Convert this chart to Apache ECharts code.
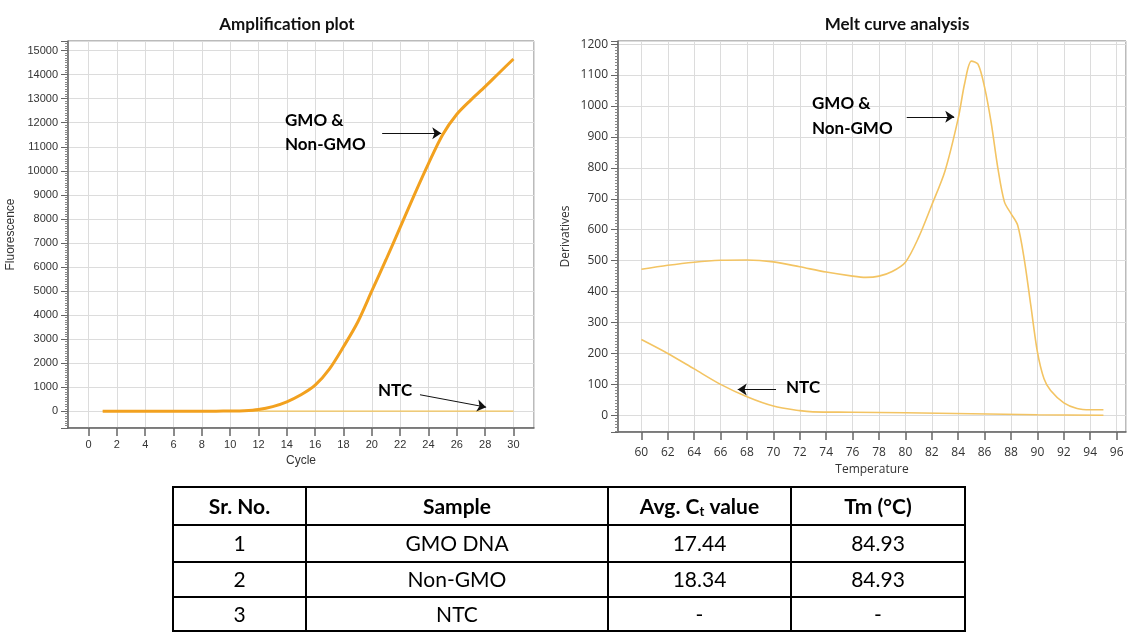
<!DOCTYPE html>
<html>
<head>
<meta charset="utf-8">
<script src="https://cdn.jsdelivr.net/npm/echarts@6/dist/echarts.min.js"></script>
<style>
html,body{margin:0;padding:0;background:#fff;}
#chart{width:1131px;height:632px;}
</style>
</head>
<body>
<div id="chart"></div>
<script>
// ---- Amplification plot data ----
const cycles = [1,2,3,4,5,6,7,8,9,10,11,12,13,14,15,16,17,18,19,20,21,22,23,24,25,26,27,28,29,30];
const gmoFluorescence = [0,0,0,0,0,0,0,0,2,6,20,70,190,390,680,1080,1750,2680,3700,5000,6300,7650,9000,10300,11500,12350,12950,13500,14080,14650];
const ntcFluorescence = [0,0,0,0,0,0,0,0,0,0,0,0,0,0,0,0,0,0,0,0,0,0,0,0,0,0,0,0,0,0];

// ---- Melt curve data ----
const gmoTemp  = [60,62,64,66,68,70,72,74,76,77,78,79,80,81,82,83,84,84.5,85,85.5,86,86.5,87,87.5,88,88.5,89,89.5,90,90.5,91,92,93,94,95];
const gmoDeriv = [472,485,495,501,502,496,480,463,450,446,450,465,495,575,680,790,960,1075,1145,1135,1060,945,800,690,652,615,505,355,205,118,80,40,22,18,18];
const ntcTemp  = [60,62,64,66,68,70,72,73,76,80,85,90,95];
const ntcDeriv = [245,200,150,100,60,30,15,11,10,8,5,2,0];

// ---- Table data ----
const tableHeader = ['Sr. No.', 'Sample', 'Avg. Ct value', 'Tm (°C)'];
const tableSrNo   = ['1', '2', '3'];
const tableSample = ['GMO DNA', 'Non-GMO', 'NTC'];
const tableCt     = ['17.44', '18.34', '-'];
const tableTm     = ['84.93', '84.93', '-'];

const zip = (xs, ys) => xs.map((x, i) => [x, ys[i]]);

const chart = echarts.init(document.getElementById('chart'), null, {renderer: 'canvas'});

const gridLine = {show: true, lineStyle: {color: '#dcdcdc', width: 1}};
const axLine = {show: true, onZero: false, lineStyle: {color: '#666', width: 1.5}};
const arrowLine = {color: '#111', width: 1, type: 'solid'};
const plain = v => String(v);

function annText(x, y, text) {
  return {type: 'text', left: x, top: y, silent: true, z: 100,
    style: {text: text, fontFamily: 'Lato', fontSize: 17, fontWeight: 'bold', fill: '#000'}};
}

// table graphic
const colX = [173, 306, 608, 791, 965];
const rowY = [487, 525, 562, 597, 631];
const tableEls = [];
tableEls.push({type: 'rect', shape: {x: colX[0], y: rowY[0], width: colX[4]-colX[0], height: rowY[4]-rowY[0]},
  style: {fill: 'none', stroke: '#000', lineWidth: 2}, silent: true});
for (let i = 1; i < colX.length - 1; i++) {
  tableEls.push({type: 'line', shape: {x1: colX[i], y1: rowY[0], x2: colX[i], y2: rowY[4]}, style: {stroke: '#000', lineWidth: 2}, silent: true});
}
for (let j = 1; j < rowY.length - 1; j++) {
  tableEls.push({type: 'line', shape: {x1: colX[0], y1: rowY[j], x2: colX[4], y2: rowY[j]}, style: {stroke: '#000', lineWidth: 2}, silent: true});
}
function cellText(ci, ri, text, bold, rich) {
  const cx = (colX[ci] + colX[ci+1]) / 2, cy = (rowY[ri] + rowY[ri+1]) / 2;
  const el = {type: 'text', x: cx, y: cy + 1, silent: true,
    style: {text: text, align: 'center', verticalAlign: 'middle',
      fontFamily: 'Lato', fontSize: 21, fontWeight: bold ? 'bold' : 'normal', fill: '#000'}};
  if (rich) el.style.rich = rich;
  return el;
}
const richCt = {
  a: {fontFamily: 'Lato', fontSize: 21, fontWeight: 'bold', fill: '#000'},
  s: {fontFamily: 'Lato', fontSize: 13, fontWeight: 'bold', fill: '#000', padding: [10, 0, 0, 0]}
};
tableEls.push(cellText(0, 0, tableHeader[0], true));
tableEls.push(cellText(1, 0, tableHeader[1], true));
tableEls.push(cellText(2, 0, '{a|Avg. C}{s|t}{a| value}', true, richCt));
tableEls.push(cellText(3, 0, tableHeader[3], true));
for (let r = 0; r < tableSrNo.length; r++) {
  tableEls.push(cellText(0, r+1, tableSrNo[r], false));
  tableEls.push(cellText(1, r+1, tableSample[r], false));
  tableEls.push(cellText(2, r+1, tableCt[r], false));
  tableEls.push(cellText(3, r+1, tableTm[r], false));
}

const option = {
  backgroundColor: '#fff',
  animation: false,
  title: [
    {text: 'Amplification plot', left: 282, top: 11, textAlign: 'center',
      textStyle: {fontFamily: 'Lato', fontWeight: 'bold', fontSize: 17, color: '#111'}},
    {text: 'Melt curve analysis', left: 892, top: 11, textAlign: 'center',
      textStyle: {fontFamily: 'Lato', fontWeight: 'bold', fontSize: 17, color: '#111'}}
  ],
  grid: [
    {left: 68, top: 41, width: 466, height: 387, show: true, borderColor: '#777', borderWidth: 1, backgroundColor: '#fff'},
    {left: 618, top: 41, width: 508, height: 391, show: true, borderColor: '#777', borderWidth: 1, backgroundColor: '#fff'}
  ],
  xAxis: [
    {type: 'value', gridIndex: 0, min: -1.45, max: 31.45, splitNumber: 16,
      name: 'Cycle', nameLocation: 'middle', nameGap: 27,
      nameTextStyle: {fontFamily: 'Liberation Sans', fontSize: 12, color: '#333'},
      axisLine: axLine, axisTick: {show: true, length: 8, lineStyle: {color: '#666', width: 1.5}},
      axisLabel: {fontFamily: 'Liberation Sans', fontSize: 11, color: '#333', margin: 11, showMinLabel: false, showMaxLabel: false, formatter: plain},
      splitLine: gridLine},
    {type: 'value', gridIndex: 1, min: 58.23, max: 96.71, splitNumber: 19,
      name: 'Temperature', nameLocation: 'middle', nameGap: 32,
      nameTextStyle: {fontFamily: 'Open Sans', fontSize: 12, color: '#333'},
      axisLine: axLine, axisTick: {show: true, length: 8, lineStyle: {color: '#666', width: 1.5}},
      axisLabel: {fontFamily: 'Open Sans', fontSize: 12, color: '#333', margin: 15, showMinLabel: false, showMaxLabel: false, formatter: plain},
      splitLine: gridLine}
  ],
  yAxis: [
    {type: 'value', gridIndex: 0, min: -700, max: 15400, splitNumber: 16,
      name: 'Fluorescence', nameLocation: 'middle', nameGap: 51,
      nameTextStyle: {fontFamily: 'Liberation Sans', fontSize: 12, color: '#333'},
      axisLine: axLine, axisTick: {show: true, length: 7, lineStyle: {color: '#666', width: 1}},
      minorTick: {show: true, splitNumber: 10, length: 3, lineStyle: {color: '#888'}},
      axisLabel: {fontFamily: 'Liberation Sans', fontSize: 11, color: '#333', margin: 10, showMinLabel: false, showMaxLabel: false, formatter: plain},
      splitLine: gridLine},
    {type: 'value', gridIndex: 1, min: -54, max: 1210, splitNumber: 12,
      name: 'Derivatives', nameLocation: 'middle', nameGap: 46,
      nameTextStyle: {fontFamily: 'Open Sans', fontSize: 12, color: '#333'},
      axisLine: axLine, axisTick: {show: true, length: 7, lineStyle: {color: '#666', width: 1}},
      minorTick: {show: true, splitNumber: 10, length: 3, lineStyle: {color: '#888'}},
      axisLabel: {fontFamily: 'Open Sans', fontSize: 12, color: '#333', margin: 10, showMinLabel: false, showMaxLabel: false, formatter: plain},
      splitLine: gridLine}
  ],
  series: [
    {type: 'line', name: 'NTC', xAxisIndex: 0, yAxisIndex: 0, data: zip(cycles, ntcFluorescence),
      showSymbol: false, lineStyle: {color: '#f2c45a', width: 1.2}, z: 2,
      markLine: {silent: true, symbol: ['none', 'arrow'], symbolSize: 9, label: {show: false},
        lineStyle: arrowLine, data: [[{coord: [23.4, 683]}, {coord: [28.07, 167]}]]}},
    {type: 'line', name: 'GMO & Non-GMO', xAxisIndex: 0, yAxisIndex: 0, data: zip(cycles, gmoFluorescence),
      showSymbol: false, smooth: 0.3, lineStyle: {color: '#f2a11f', width: 3}, z: 3,
      markLine: {silent: true, symbol: ['none', 'arrow'], symbolSize: 9, label: {show: false},
        lineStyle: arrowLine, data: [[{coord: [20.73, 11558]}, {coord: [24.9, 11558]}]]}},
    {type: 'line', name: 'GMO & Non-GMO melt', xAxisIndex: 1, yAxisIndex: 1, data: zip(gmoTemp, gmoDeriv),
      showSymbol: false, smooth: 0.3, lineStyle: {color: '#f3c463', width: 1.6},
      markLine: {silent: true, symbol: ['none', 'arrow'], symbolSize: 9, label: {show: false},
        lineStyle: arrowLine, data: [[{coord: [80.1, 965]}, {coord: [83.7, 965]}]]}},
    {type: 'line', name: 'NTC melt', xAxisIndex: 1, yAxisIndex: 1, data: zip(ntcTemp, ntcDeriv),
      showSymbol: false, smooth: 0.3, lineStyle: {color: '#f3c463', width: 1.6},
      markLine: {silent: true, symbol: ['none', 'arrow'], symbolSize: 9, label: {show: false},
        lineStyle: arrowLine, data: [[{coord: [70.2, 83]}, {coord: [67.3, 83]}]]}}
  ],
  graphic: [
    annText(285, 112, 'GMO &'),
    annText(285, 136, 'Non-GMO'),
    annText(378, 382, 'NTC'),
    annText(812, 95, 'GMO &'),
    annText(812, 120, 'Non-GMO'),
    annText(786, 379, 'NTC'),
    {type: 'group', children: tableEls}
  ]
};
chart.setOption(option);
</script>
</body>
</html>
